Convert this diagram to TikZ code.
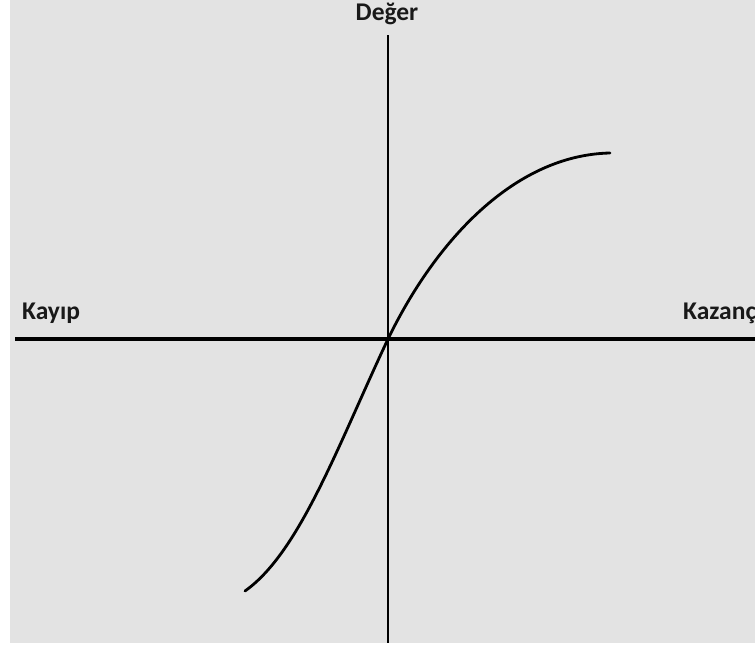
\documentclass[tikz,border=0pt]{standalone}
\usepackage{fontspec}
\setmainfont{Carlito}
\usepackage{tikz}
\usetikzlibrary{calc}
\definecolor{panel}{HTML}{E3E3E3}
\tikzset{
  axis/.style={line width=3.2pt,black},
  vaxis/.style={line width=2.4pt,black},
  curve/.style={line width=2.8pt,black,line cap=round},
  lbl/.style={font=\bfseries\fontsize{25.5}{30}\selectfont,text=black!90,inner sep=0pt}
}
\begin{document}
\begin{tikzpicture}[x=1pt,y=-1pt,line join=round]
% --- frame and panel
\useasboundingbox (0,0) rectangle (755,648);
\clip (0,0) rectangle (755,648);
\fill[white] (0,0) rectangle (755,648);
\fill[panel] (10,0) rectangle (755,643);
% --- axes
\coordinate (O) at (388,339);
\coordinate (xl) at (15,339);
\coordinate (xr) at (755,339);
\coordinate (yt) at (388,35);
\coordinate (yb) at (388,643);
\draw[axis] (xl) -- (xr);
\draw[vaxis] (yt) -- (yb);
% --- value curve
\coordinate (lo) at (245,591);
\coordinate (hi) at (610,153);
\draw[curve] (lo) .. controls (300,552) and (338,445) .. (O)
  .. controls (436,240) and (515,155) .. (hi);
% --- labels
\node[lbl,anchor=base] (deger) at (387,20) {Değer};
\node[lbl,anchor=base west] (kayip) at (22,319) {Kayıp};
\node[lbl,anchor=base west] (kazanc) at (683,319) {Kazanç};
\end{tikzpicture}
\end{document}
